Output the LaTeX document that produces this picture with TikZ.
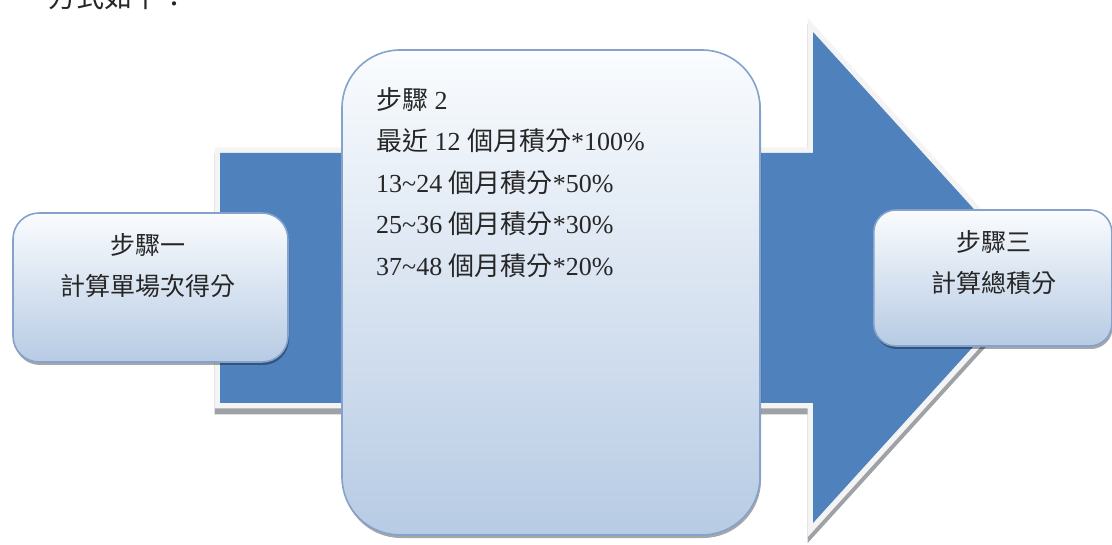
\documentclass[tikz,border=0pt]{standalone}
\usepackage{fontspec}
\setmainfont{Liberation Serif}
\newfontfamily\cjk{Noto Sans CJK TC}
\usetikzlibrary{shadows}
\definecolor{arrowblue}{HTML}{4F81BD}
\definecolor{boxbot}{HTML}{B7CBE4}
\definecolor{boxtop}{HTML}{FAFCFE}
\definecolor{boxborder}{HTML}{84A2CC}
\definecolor{rimwhite}{HTML}{F4F4F4}
\definecolor{rimshadow}{HTML}{9EA2A6}
\begin{document}
\begin{tikzpicture}[x=1pt,y=-1pt,
  box/.style={draw=boxborder, line width=1.6pt, top color=boxtop, bottom color=boxbot,
    inner sep=0pt, drop shadow={shadow xshift=1pt, shadow yshift=-3pt, opacity=0.35, fill=black}},
  txt/.style={font=\cjk\fontsize{25}{41}\selectfont, text=black!85, align=center, inner sep=0pt},
  listtxt/.style={font=\fontsize{26}{41.5}\selectfont, text=black!85, align=left, inner sep=0pt, anchor=north west}
]
\useasboundingbox (0,0) rectangle (1112,545);
% top caption (cut off)
\node[font=\cjk\fontsize{28}{30}\selectfont, text=black!85, anchor=west, inner sep=0pt] (cap) at (48,-3) {方式如下：};
% big arrow
\coordinate (a1) at (220,153);
\coordinate (a2) at (813,153);
\coordinate (a3) at (813,32);
\coordinate (a4) at (1036,277.5);
\coordinate (a5) at (813,523);
\coordinate (a6) at (813,403);
\coordinate (a7) at (220,403);
\begin{scope}[shift={(0,6)}]
\filldraw[rimshadow, line width=11pt, line join=miter] (220,153) -- (813,153) -- (813,32) -- (1036,277.5) -- (813,523) -- (813,403) -- (220,403) -- cycle;
\end{scope}
\filldraw[rimwhite, line width=11pt, line join=miter] (a1) -- (a2) -- (a3) -- (a4) -- (a5) -- (a6) -- (a7) -- cycle;
\fill[arrowblue] (a1) -- (a2) -- (a3) -- (a4) -- (a5) -- (a6) -- (a7) -- cycle;
% boxes
\node[box, rounded corners=26pt, minimum width=275pt, minimum height=149pt] (box1) at (150.5,287.5) {};
\node[box, rounded corners=58pt, minimum width=418pt, minimum height=485pt] (box2) at (551,292.5) {};
\node[box, rounded corners=22pt, minimum width=238pt, minimum height=136pt, anchor=west] (box3) at (873,278) {};
% texts
\node[txt] (t1) at (148,266) {步驟一\\計算單場次得分};
\node[txt] (t3) at (994,263) {步驟三\\計算總積分};
\node[listtxt] (t2) at (376,87) {{\cjk 步驟} 2\\
{\cjk 最近} 12 {\cjk 個月積分}*100\%\\
13\char`\~24 {\cjk 個月積分}*50\%\\
25\char`\~36 {\cjk 個月積分}*30\%\\
37\char`\~48 {\cjk 個月積分}*20\%};
\end{tikzpicture}
\end{document}
